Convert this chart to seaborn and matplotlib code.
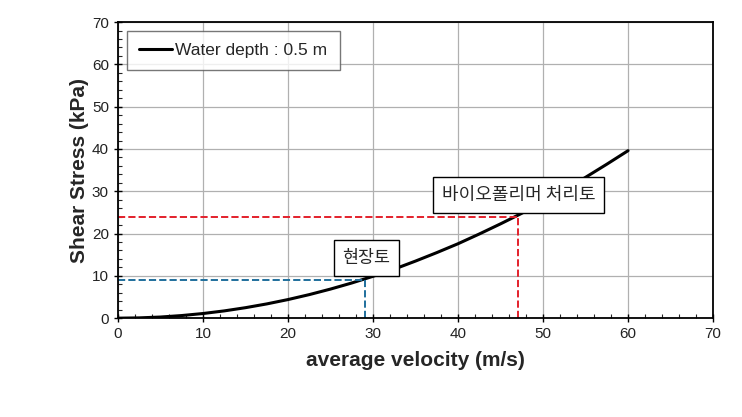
import numpy as np
import matplotlib
matplotlib.use("Agg")
import matplotlib.pyplot as plt
import seaborn as sns
from matplotlib.ticker import MultipleLocator

# ---------------------------------------------------------
#                 DATA
# ---------------------------------------------------------
velocity = [0, 2.5, 5, 7.5, 10, 12.5, 15, 17.5, 20, 22.5, 25, 27.5, 30,
            32.5, 35, 37.5, 40, 42.5, 45, 47.5, 50, 52.5, 55, 57.5, 60]
shear_stress = [0.0, 0.07, 0.27, 0.62, 1.1, 1.72, 2.48, 3.37, 4.4, 5.57, 6.88, 8.32, 9.9,
                11.6, 13.5, 15.5, 17.6, 19.9, 22.3, 24.8, 27.5, 30.3, 33.3, 36.4, 39.6]

field_soil = (29, 9)        # 현장토
treated_soil = (47, 24)     # 바이오폴리머 처리토

# ---------------------------------------------------------
#                 STYLE
# ---------------------------------------------------------
sns.set_style("white")
plt.rcParams["font.family"] = ["Liberation Sans", "Noto Sans CJK KR", "DejaVu Sans"]

fig = plt.figure(figsize=(7.42, 4.17), dpi=100)
ax = fig.add_axes([0.159, 0.237, 0.802, 0.71])

sns.lineplot(x=velocity, y=shear_stress, ax=ax, color="black", linewidth=2.2,
             label="Water depth : 0.5 m")

# guide lines
ax.plot([0, field_soil[0]], [field_soil[1]] * 2, ls="--", color="#1f6f9c", lw=1.4)
ax.plot([field_soil[0]] * 2, [0, field_soil[1]], ls="--", color="#1f6f9c", lw=1.4)
ax.plot([0, treated_soil[0]], [treated_soil[1]] * 2, ls="--", color="#e3202b", lw=1.4)
ax.plot([treated_soil[0]] * 2, [0, treated_soil[1]], ls="--", color="#e3202b", lw=1.4)

box = dict(boxstyle="square,pad=0.5", fc="white", ec="black", lw=1)
ax.text(field_soil[0] + 0.2, field_soil[1] + 5.2, "현장토", ha="center", va="center",
        fontsize=12.5, bbox=box, family=["Noto Sans CJK KR", "DejaVu Sans"])
ax.text(treated_soil[0] + 0.1, treated_soil[1] + 5.1, "바이오폴리머 처리토", ha="center",
        va="center", fontsize=13, bbox=box, family=["Noto Sans CJK KR", "DejaVu Sans"])

ax.set_xlim(0, 70)
ax.set_ylim(0, 70)
ax.xaxis.set_major_locator(MultipleLocator(10))
ax.yaxis.set_major_locator(MultipleLocator(10))
ax.xaxis.set_minor_locator(MultipleLocator(2))
ax.yaxis.set_minor_locator(MultipleLocator(2))
ax.tick_params(which="major", direction="inout", length=6, width=1, labelsize=11,
               colors="black", labelcolor="#222222")
ax.tick_params(which="minor", direction="in", length=3, width=0.8)
ax.tick_params(axis="x", which="both", bottom=True)
ax.tick_params(axis="y", which="both", left=True)
ax.grid(True, which="major", color="#b0b0b0", lw=0.9)

for s in ax.spines.values():
    s.set_color("black")
    s.set_linewidth(1.3)

ax.set_xlabel("average velocity (m/s)", fontsize=15, fontweight="bold", labelpad=7)
ax.set_ylabel("Shear Stress (kPa)", fontsize=15, fontweight="bold", labelpad=2)

leg = ax.legend(loc="upper left", fontsize=12.5, frameon=True, fancybox=False,
                edgecolor="#555555", handlelength=1.9, handletextpad=0.2,
                borderpad=0.7, bbox_to_anchor=(0.0, 1.0))
leg.get_frame().set_linewidth(1)

fig.savefig("out.png", dpi=100)
